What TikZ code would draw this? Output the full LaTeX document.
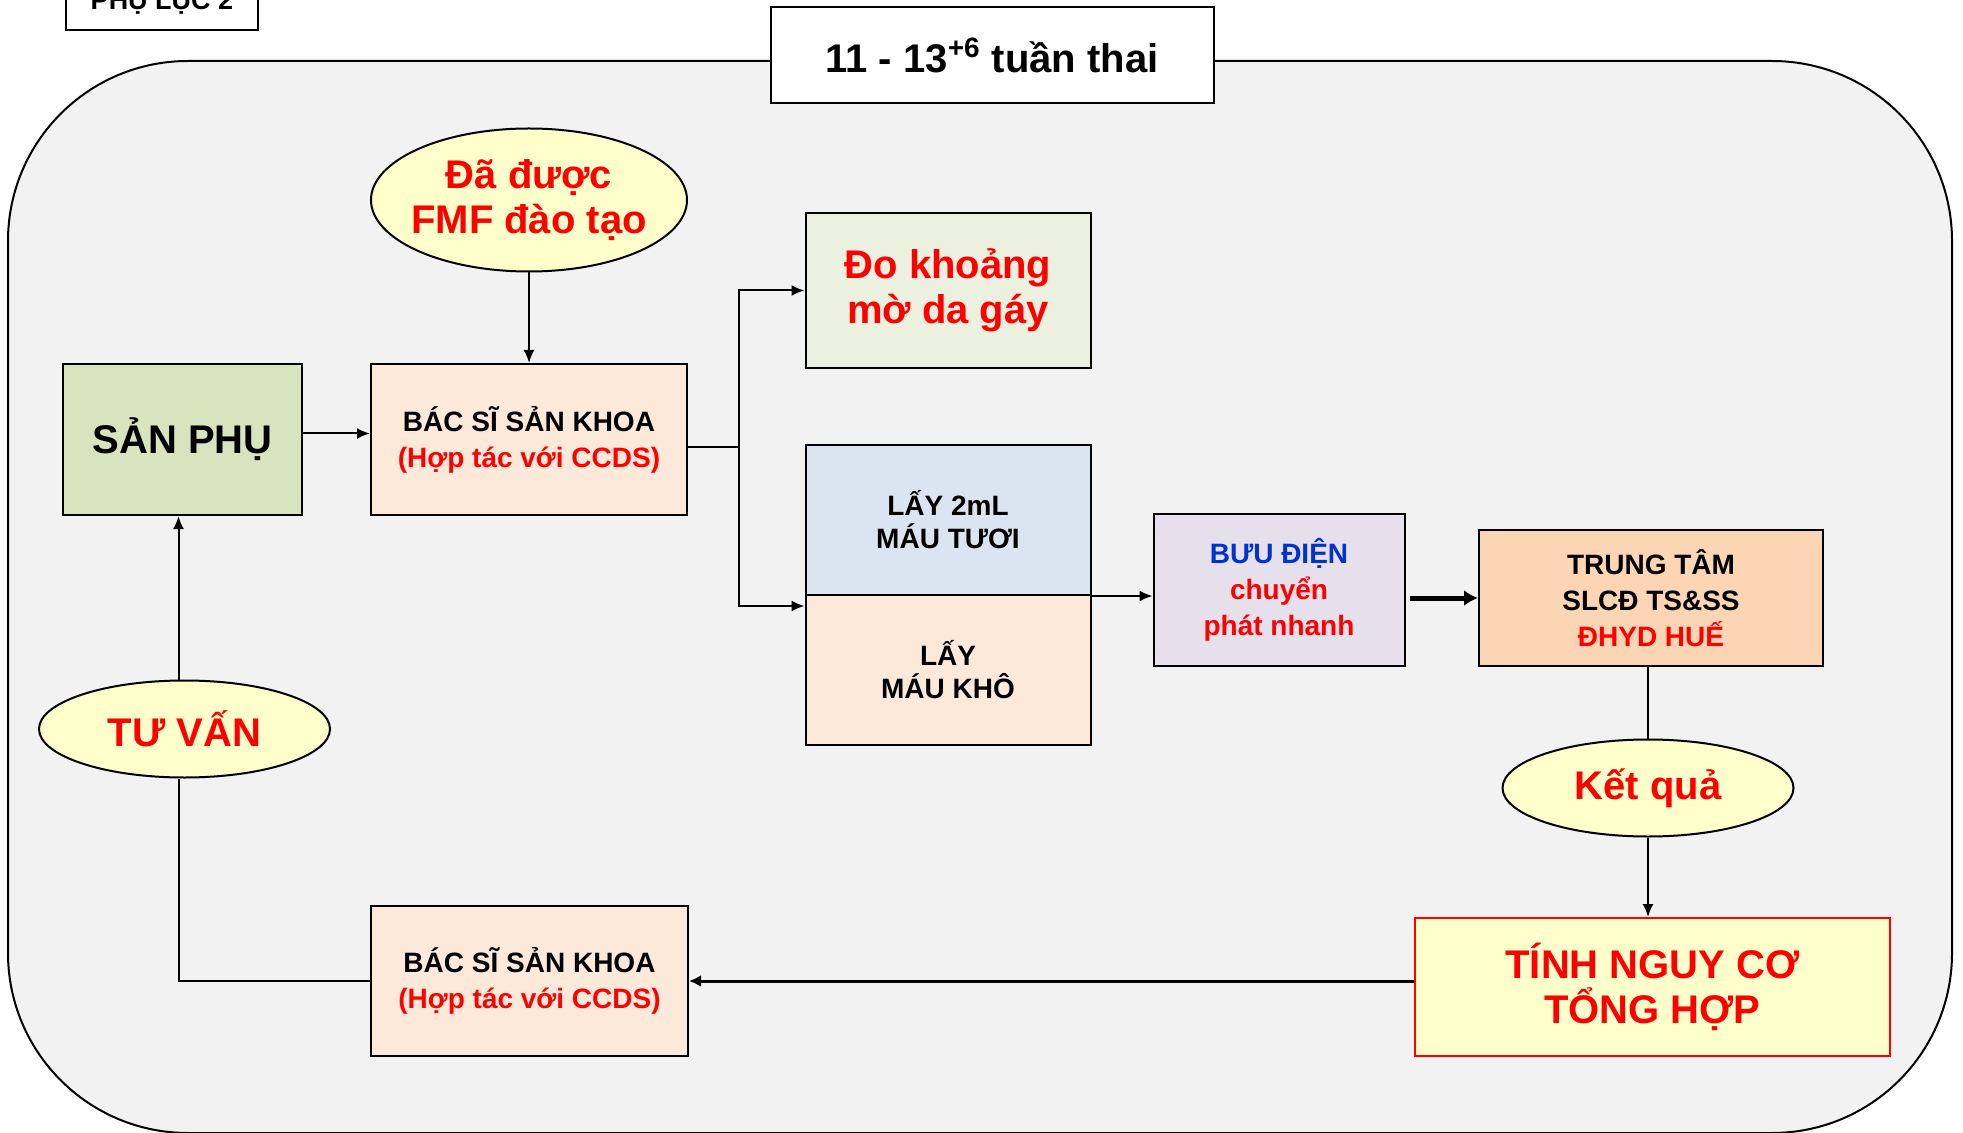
\documentclass[tikz,border=0pt]{standalone}
\usepackage{fontspec}
\setmainfont{Liberation Sans}
\usetikzlibrary{shapes.geometric}
\usetikzlibrary{arrows.meta}
\tikzset{>={Latex[length=6.5pt,width=5.5pt]}}
\definecolor{backgray}{HTML}{F2F2F2}
\definecolor{mothergreen}{HTML}{D7E4BD}
\definecolor{doctorpeach}{HTML}{FDE9D9}
\definecolor{ntgreen}{HTML}{EBF1DE}
\definecolor{bloodblue}{HTML}{DBE5F1}
\definecolor{postlilac}{HTML}{E5E0EC}
\definecolor{centerorange}{HTML}{FCD5B4}
\definecolor{noteyellow}{HTML}{FFFFCC}
\definecolor{textblue}{HTML}{0033CC}
\tikzset{
  stage/.style={draw, line width=1pt, inner sep=0pt, align=center,
    font=\bfseries\fontsize{14}{18}\selectfont},
  bigtext/.style={font=\bfseries\fontsize{20}{22.5}\selectfont},
  bubble/.style={ellipse, draw, line width=1pt, fill=noteyellow, inner sep=0pt,
    align=center, text=red, bigtext},
  link/.style={line width=1pt},
}

\begin{document}
\begin{tikzpicture}[x=0.5pt, y=-0.5pt]
                \useasboundingbox (0,0) rectangle (1963,1133);
                \draw[line width=1pt, fill=backgray, rounded corners=90pt] (8,61) rectangle (1952,1133);
                \node[stage, fill=white, minimum width=96pt, minimum height=28pt, font=\bfseries\fontsize{13.5}{16}\selectfont] (appendix) at (162,2) {PHỤ LỤC 2};
                \node[stage, fill=white, minimum width=221.5pt, minimum height=48pt, bigtext] (period) at (992,55.5) {11 - 13\textsuperscript{+6} tuần thai};
                \node[bubble, minimum width=158pt, minimum height=71.5pt, inner xsep=-5pt] (fmf) at (529,200) {Đã được\\FMF đào tạo};
                \node[stage, fill=mothergreen, minimum width=119.5pt, minimum height=75.5pt, bigtext] (sanphu) at (182.5,439.5) {SẢN PHỤ};
                \node[stage, fill=doctorpeach, minimum width=158pt, minimum height=75.5pt] (bacsi1) at (529,439.5) {BÁC SĨ SẢN KHOA\\\textcolor{red}{(Hợp tác với CCDS)}};
                \node[stage, fill=ntgreen, minimum width=142.5pt, minimum height=77.5pt, bigtext, text=red] (doday) at (948,290.5) {Đo khoảng\\mờ da gáy};
                \node[stage, fill=bloodblue, minimum width=142.5pt, minimum height=75pt, font=\bfseries\fontsize{14}{16.5}\selectfont] (mautuoi) at (948,520) {LẤY 2mL\\MÁU TƯƠI};
                \node[stage, fill=doctorpeach, minimum width=142.5pt, minimum height=75pt, font=\bfseries\fontsize{14}{16.5}\selectfont] (maukho) at (948,670) {LẤY\\MÁU KHÔ};
                \node[stage, fill=postlilac, minimum width=125.5pt, minimum height=76pt, text=red] (buudien) at (1279,590) {\textcolor{textblue}{BƯU ĐIỆN}\\chuyển\\phát nhanh};
                \node[stage, fill=centerorange, minimum width=172pt, minimum height=68pt] (trungtam) at (1651,598) {TRUNG TÂM\\SLCĐ TS\&SS\\\textcolor{red}{ĐHYD HUẾ}};
                \node[bubble, minimum width=145.5pt, minimum height=48.5pt] (ketqua) at (1648,788) {Kết quả};
                \node[stage, draw=red, fill=noteyellow, minimum width=237.5pt, minimum height=69pt, bigtext, text=red] (tinh) at (1652.5,987) {TÍNH NGUY CƠ\\TỔNG HỢP};
                \node[stage, fill=doctorpeach, minimum width=158.5pt, minimum height=75pt] (bacsi2) at (529.5,981) {BÁC SĨ SẢN KHOA\\\textcolor{red}{(Hợp tác với CCDS)}};
                \node[bubble, minimum width=145.5pt, minimum height=48.5pt] (tuvan) at (184.5,729) {TƯ VẤN};
                \coordinate (fork) at (739,447);
                \draw[link, ->] (fmf) -- (bacsi1);
                \draw[link, ->] ([yshift=3pt]sanphu.east) -- ([yshift=3pt]bacsi1.west);
                \draw[link] (bacsi1.east |- fork) -- (fork);
                \draw[link, ->] (fork) |- (doday.west);
                \draw[link, ->] (fork) |- ([yshift=-5pt]mautuoi.south west);
                \draw[link, ->] (mautuoi.south east) -- (buudien.west |- mautuoi.south east);
                \draw[line width=2.5pt, -{Latex[length=7pt,width=8pt]}] ([xshift=2pt]buudien.east |- trungtam.west) -- (trungtam.west);
                \draw[link] (ketqua.north |- trungtam.south) -- (ketqua.north);
                \draw[link, ->] (ketqua.south) -- (ketqua.south |- tinh.north);
                \draw[line width=1.5pt, -{Latex[length=6pt,width=6pt]}] (tinh.west |- bacsi2.east) -- (bacsi2.east);
                \draw[link] (bacsi2.west) -| ([xshift=-3pt]tuvan.south);
                \draw[link, ->] ([xshift=-3pt]tuvan.north) -- ([xshift=-3pt]tuvan.north |- sanphu.south);
            \end{tikzpicture}
\end{document}
